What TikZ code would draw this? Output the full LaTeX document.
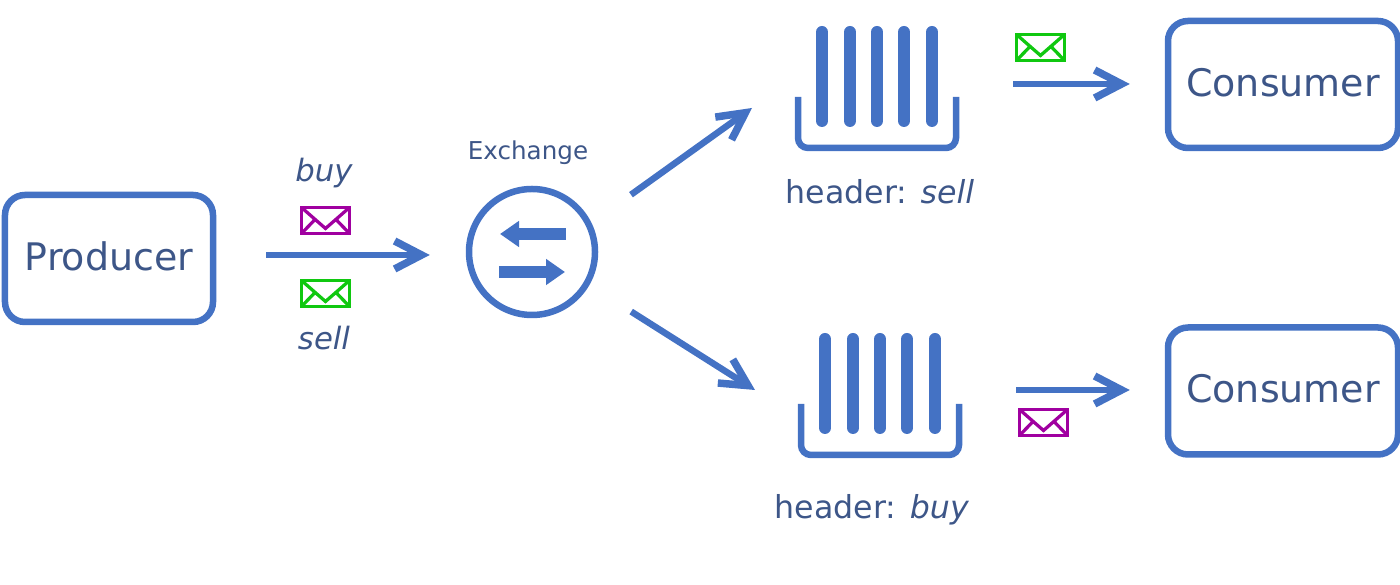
\documentclass[tikz,border=0pt]{standalone}
\usepackage{fontspec}
\setmainfont{DejaVu Sans}
\usetikzlibrary{arrows.meta}
\usetikzlibrary{positioning}
\definecolor{boxblue}{HTML}{4472C4}
\definecolor{labelblue}{HTML}{3D5688}
\definecolor{mailgreen}{HTML}{10C810}
\definecolor{mailpurple}{HTML}{A000A0}
\tikzset{
  actor/.style={draw=boxblue, line width=0.13cm, rounded corners=0.4cm, fill=white,
    minimum height=2.54cm, text=labelblue, text depth=0.1cm, font=\fontsize{21.6}{24}\selectfont},
  flow/.style={draw=boxblue, line width=0.13cm, -{Straight Barb[length=0.54cm,width=0.56cm,line width=0.15cm]}},
  swap/.style={draw=boxblue, line width=0.24cm, -{Triangle[length=0.38cm,width=0.5cm]}},
  tag/.style={text=labelblue, anchor=base, inner sep=0pt, font=\fontsize{18}{22}\selectfont},
}
\newcommand{\tikzmail}[2] {
\filldraw[draw=#2, fill=white, line width=0.065cm] (#1) rectangle +(0.96,0.52);
\draw[#2, line width=0.065cm] (#1) +(0,0.52) -- +(0.48,0.1) -- +(0.96,0.52)
   (#1) -- +(0.27,0.28) (#1) ++(0.96,0) -- +(-0.27,0.28);
}
\newcommand{\tikzqueue} {
\draw[boxblue, line width=0.13cm, rounded corners=0.2cm] (0,0) -- (0,-1.02) -- (3.16,-1.02) -- (3.16,0);
\foreach \barx in {0.48,1.04,1.58,2.12,2.68}
  \draw[boxblue, line width=0.24cm, line cap=round] (\barx,-0.48) -- (\barx,1.3);
}

\begin{document}
\begin{tikzpicture}
      \useasboundingbox (0,0) rectangle (28,11.7);
      \node[actor, minimum width=4.16cm] (producer) at (2.18,6.53) {Producer};
      \node[circle, draw=boxblue, line width=0.13cm, minimum size=2.52cm] (exchange) at (10.64,6.66) {};
      \node[actor, minimum width=4.6cm] (consumerA) at (25.66,10.01) {Consumer};
      \node[actor, minimum width=4.6cm] (consumerB) at (25.66,3.88) {Consumer};

      \node[tag, font=\fontsize{14}{18}\selectfont] (exchangelabel) at (10.56,8.5) {Exchange};
      \node[tag, font=\fontsize{17.5}{20}\selectfont\itshape] (buylabel) at (6.48,8.07) {buy};
      \node[tag, font=\fontsize{17.5}{20}\selectfont\itshape] (selllabel) at (6.48,4.7) {sell};
      \node[tag] (headerA) at (17.6,7.62) {header: \textit{sell}};
      \node[tag] (headerB) at (17.44,1.32) {header: \textit{buy}};

      \tikzmail{6.03,7.03}{mailpurple}
      \tikzmail{6.03,5.57}{mailgreen}
      \tikzmail{20.33,10.49}{mailgreen}
      \tikzmail{20.39,2.99}{mailpurple}

      \begin{scope}[xshift=15.96cm, yshift=9.76cm]
        \tikzqueue
      \end{scope}
      \begin{scope}[xshift=16.02cm, yshift=3.62cm]
        \tikzqueue
      \end{scope}

      \coordinate (queueAin) at (15.04,9.54);
      \coordinate (queueBin) at (15.1,3.9);
      \coordinate (queueAout) at (20.26,10.02);
      \coordinate (queueBout) at (20.32,3.9);

      \draw[flow, shorten <=1.0cm, shorten >=0.72cm] ([yshift=0.07cm]producer.east) -- ([yshift=-0.06cm]exchange.west);
      \draw[flow, shorten <=0.97cm] (exchange.26) -- (queueAin);
      \draw[flow, shorten <=0.99cm] (exchange.-30.5) -- (queueBin);
      \draw[flow, shorten >=0.7cm] (queueAout) -- (consumerA.west |- queueAout);
      \draw[flow, shorten >=0.7cm] (queueBout) -- (consumerB.west |- queueBout);

      \draw[swap] ([shift={(0.67,0.36)}]exchange.center) -- ([shift={(-0.64,0.36)}]exchange.center);
      \draw[swap] ([shift={(-0.66,-0.4)}]exchange.center) -- ([shift={(0.66,-0.4)}]exchange.center);
    \end{tikzpicture}
\end{document}
